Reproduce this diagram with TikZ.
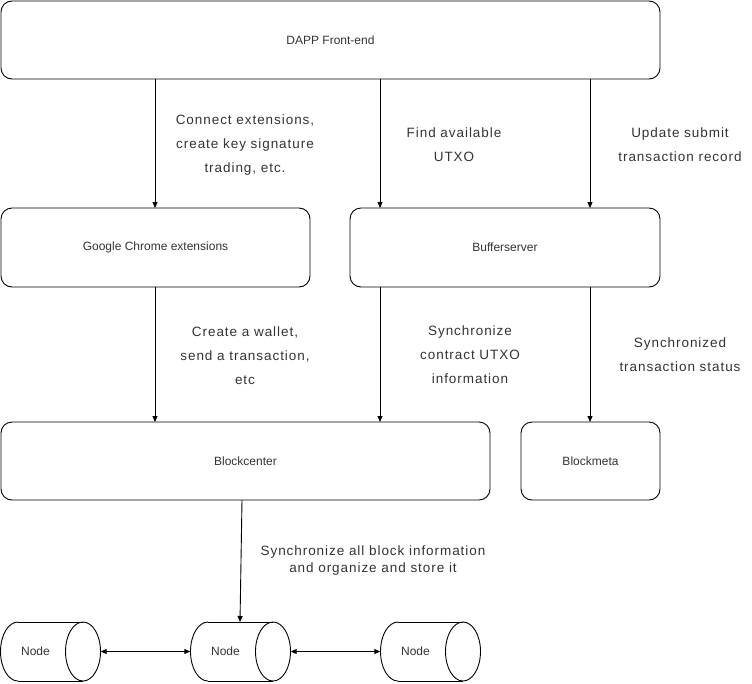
\documentclass[tikz,border=0pt]{standalone}
\usepackage{fontspec}
\setmainfont{Liberation Sans}
\usetikzlibrary{arrows.meta}
\definecolor{txt}{gray}{0.2}
\begin{document}
\begin{tikzpicture}[x=1pt,y=-1pt,
  box/.style={draw,line width=0.9pt,rounded corners=11pt,inner sep=0pt,text=txt,font=\fontsize{12}{14}\selectfont},
  lbl/.style={align=center,text=txt,font=\fontsize{13.5}{24}\selectfont\addfontfeature{LetterSpace=7},inner sep=0pt},
  arr/.style={line width=0.9pt,-{Triangle[length=6pt,width=5pt]}},
  darr/.style={line width=0.9pt,{Triangle[length=6pt,width=5pt]}-{Triangle[length=6pt,width=5pt]}},
  cylbox/.style={minimum width=100pt,minimum height=59pt,inner sep=0pt},
  cylline/.style={line width=0.9pt}]
\useasboundingbox (0,0) rectangle (752,683);
\node[box,minimum width=659pt,minimum height=78pt] (dapp) at (330.5,40) {DAPP Front-end};
\node[box,minimum width=309pt,minimum height=79pt] (chrome) at (155.5,247.5) {Google Chrome extensions};
\node[box,minimum width=310pt,minimum height=79pt] (buf) at (505,247.5) {Bufferserver};
\node[box,minimum width=489pt,minimum height=78pt] (bc) at (245.5,461) {Blockcenter};
\node[box,minimum width=139pt,minimum height=78pt] (bm) at (590.5,461) {Blockmeta};
\foreach \n/\x in {n1/0.5,n2/190.5,n3/380.5}{
  \node[cylbox,label={[text=txt,font=\fontsize{12}{14}\selectfont,xshift=-15pt]center:Node}] (\n) at (\x+50,651.5) {};
  \draw[cylline] (\x+17.5,622) -- (\x+82.5,622);
  \draw[cylline] (\x+17.5,681) -- (\x+82.5,681);
  \draw[cylline] (\x+82.5,651.5) ellipse [x radius=17.5,y radius=29.5];
  \draw[cylline] (\x+17.5,622) .. controls (\x+7.83,622) and (\x,635.21) .. (\x,651.5)
     .. controls (\x,667.79) and (\x+7.83,681) .. (\x+17.5,681);
}
\coordinate (a1) at (155,79); \coordinate (b1) at (155,208);
\coordinate (a2) at (380,79); \coordinate (b2) at (380,208);
\coordinate (a3) at (590,79); \coordinate (b3) at (590,208);
\draw[arr] (a1) -- (b1);
\draw[arr] (a2) -- (b2);
\draw[arr] (a3) -- (b3);
\coordinate (c1) at (155,287); \coordinate (d1) at (155,422);
\coordinate (c2) at (380,287); \coordinate (d2) at (380,422);
\coordinate (c3) at (590,287); \coordinate (d3) at (590,422);
\draw[arr] (c1) -- (d1);
\draw[arr] (c2) -- (d2);
\draw[arr] (c3) -- (d3);
\coordinate (e) at (242,500);
\coordinate (f) at (240,622);
\draw[arr] (e) -- (f);
\draw[darr] (n1.east) -- (n2.west);
\draw[darr] (n2.east) -- (n3.west);
\node[lbl] (l1) at (245,145) {Connect extensions,\\create key signature\\trading, etc.};
\node[lbl] (l2) at (454,145) {Find available\\UTXO};
\node[lbl] (l3) at (680,145) {Update submit\\transaction record};
\node[lbl] (l4) at (245,355.5) {Create a wallet,\\send a transaction,\\etc};
\node[lbl] (l5) at (470,355) {Synchronize\\contract UTXO\\information};
\node[lbl] (l6) at (680,355) {Synchronized\\transaction status};
\node[lbl,font=\fontsize{13.5}{17}\selectfont\addfontfeature{LetterSpace=7}] (l7) at (373,560.5) {Synchronize all block information\\and organize and store it};
\end{tikzpicture}
\end{document}
